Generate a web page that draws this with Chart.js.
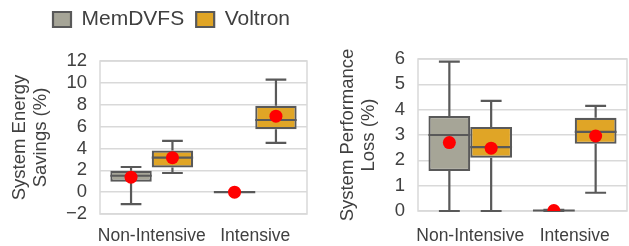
<!DOCTYPE html>
<html>
<head>
<meta charset="utf-8">
<script src="https://cdn.jsdelivr.net/npm/chart.js@4.4.1/dist/chart.umd.min.js"></script>
<style>
  html, body { margin: 0; padding: 0; background: #fff; }
  #wrap { position: relative; width: 629px; height: 246px; overflow: hidden; }
  #energy { position: absolute; left: 0; top: 0; }
  #perf { position: absolute; left: 315px; top: 0; }
</style>
</head>
<body>
<div id="wrap">
  <canvas id="energy" width="315" height="246"></canvas>
  <canvas id="perf" width="314" height="246"></canvas>
</div>
<script>
const categories = ['Non-Intensive', 'Intensive'];
const seriesNames = ['MemDVFS', 'Voltron'];
const seriesColors = ['#a6a597', '#e0a526'];

// per category: [min, q1, median, q3, max, mean]
const energyMemDVFS = [[-1.1, 0.95, 1.5, 1.95, 2.3, 1.37], [0, 0, 0, 0, 0, 0]];
const energyVoltron = [[1.75, 2.25, 3.15, 3.8, 4.7, 3.15], [4.5, 5.75, 6.6, 7.9, 10.3, 6.95]];
const perfMemDVFS = [[0, 1.58, 3.0, 3.75, 5.9, 2.7], [0, 0, 0.02, 0.04, 0.05, 0.02]];
const perfVoltron = [[0, 2.1, 2.52, 3.32, 4.35, 2.48], [0.72, 2.65, 3.12, 3.68, 4.15, 2.96]];

// axis: [min, max, step]
const energyTicks = [-2, 12, 2];
const perfTicks = [0, 6, 1];

const textColor = '#404040';
const edgeColor = '#595959';
const gridColor = '#d9d9d9';

Chart.defaults.font.family = '"Liberation Sans", Arial, sans-serif';
Chart.defaults.color = textColor;

// whiskers, medians, means and plot frame
const boxExtras = {
  id: 'boxExtras',
  beforeDatasetsDraw(chart) {
    const { ctx, chartArea: a } = chart;
    ctx.save();
    ctx.strokeStyle = gridColor;
    ctx.lineWidth = 1.5;
    ctx.strokeRect(a.left, a.top, a.right - a.left, a.bottom - a.top);
    ctx.restore();
  },
  afterDatasetsDraw(chart) {
    const { ctx, chartArea: a } = chart;
    const y = chart.scales.y;
    chart.data.datasets.forEach((ds, di) => {
      chart.getDatasetMeta(di).data.forEach((bar, i) => {
        const [mn, q1, med, q3, mx, mean] = ds.stats[i];
        const { x, width } = bar.getProps(['x', 'width'], true);
        const half = width / 2;
        const cap = width / 4;
        ctx.save();
        ctx.strokeStyle = edgeColor;
        ctx.lineWidth = 2.2;
        ctx.beginPath();
        ctx.moveTo(x, y.getPixelForValue(q3));
        ctx.lineTo(x, y.getPixelForValue(mx));
        ctx.moveTo(x - cap, y.getPixelForValue(mx));
        ctx.lineTo(x + cap, y.getPixelForValue(mx));
        ctx.moveTo(x, y.getPixelForValue(q1));
        ctx.lineTo(x, y.getPixelForValue(mn));
        ctx.moveTo(x - cap, y.getPixelForValue(mn));
        ctx.lineTo(x + cap, y.getPixelForValue(mn));
        ctx.moveTo(x - half, y.getPixelForValue(med));
        ctx.lineTo(x + half, y.getPixelForValue(med));
        ctx.stroke();

        ctx.beginPath();
        ctx.rect(a.left, a.top, a.right - a.left, a.bottom - a.top);
        ctx.clip();
        ctx.fillStyle = '#ff0000';
        ctx.beginPath();
        ctx.arc(x, y.getPixelForValue(mean), 6.5, 0, Math.PI * 2);
        ctx.fill();
        ctx.restore();
      });
    });
  }
};

function boxDataset(idx, stats) {
  return {
    label: seriesNames[idx],
    stats: stats,
    data: stats.map(s => [s[1], s[3]]),
    backgroundColor: seriesColors[idx],
    borderColor: edgeColor,
    borderWidth: 2.2,
    borderSkipped: false,
    categoryPercentage: 0.8,
    barPercentage: 1.0,
    xAxisID: 'x'
  };
}

function minusTick(v) {
  return v < 0 ? '\u2212' + Math.abs(v) : String(v);
}

function makeChart(id, memStats, volStats, ticks, cfg) {
  const scales = {
    x: {
      type: 'category',
      labels: categories,
      grid: { display: false, drawTicks: false },
      border: { display: false },
      ticks: { font: { size: 17.5 }, padding: cfg.xPad, maxRotation: 0, autoSkip: false },
      afterFit: s => { s.height = cfg.xHeight; }
    },
    y: {
      min: ticks[0],
      max: ticks[1],
      ticks: { stepSize: ticks[2], font: { size: 18.5 }, padding: 13, autoSkip: false, callback: minusTick },
      grid: { color: gridColor, lineWidth: 1.5, drawTicks: false },
      border: { display: false },
      title: {
        display: true,
        text: cfg.title,
        font: { size: 18.5, lineHeight: 1.1 },
        padding: { top: cfg.titlePad, bottom: 0 }
      },
      afterFit: s => { s.width = cfg.yWidth; }
    }
  };
  if (cfg.gap) {
    scales.x2 = {
      type: 'category',
      labels: categories,
      position: 'top',
      ticks: { display: false },
      grid: { display: false, drawTicks: false },
      border: { display: false },
      afterFit: s => { s.height = cfg.gap; }
    };
  }
  return new Chart(document.getElementById(id), {
    type: 'bar',
    data: {
      labels: categories,
      datasets: [boxDataset(0, memStats), boxDataset(1, volStats)]
    },
    options: {
      responsive: false,
      animation: false,
      layout: { padding: cfg.padding },
      plugins: {
        tooltip: { enabled: false },
        legend: cfg.legend ? {
          display: true,
          position: 'top',
          align: 'start',
          labels: { font: { size: 21 }, boxWidth: 18, boxHeight: 15, padding: 12, color: textColor }
        } : { display: false }
      },
      scales: scales
    },
    plugins: [boxExtras]
  });
}

makeChart('energy', energyMemDVFS, energyVoltron, energyTicks, {
  title: ['System Energy', 'Savings (%)'],
  titlePad: -31,
  yWidth: 59,
  xHeight: 32,
  xPad: 12,
  gap: 21,
  legend: true,
  padding: { left: 41, right: 8, top: -3, bottom: 0 }
});

makeChart('perf', perfMemDVFS, perfVoltron, perfTicks, {
  title: ['System Performance', 'Loss (%)'],
  titlePad: 23,
  yWidth: 103,
  xHeight: 35,
  xPad: 15,
  gap: 0,
  legend: false,
  padding: { left: 0, right: 2, top: 59, bottom: 0 }
});
</script>
</body>
</html>
